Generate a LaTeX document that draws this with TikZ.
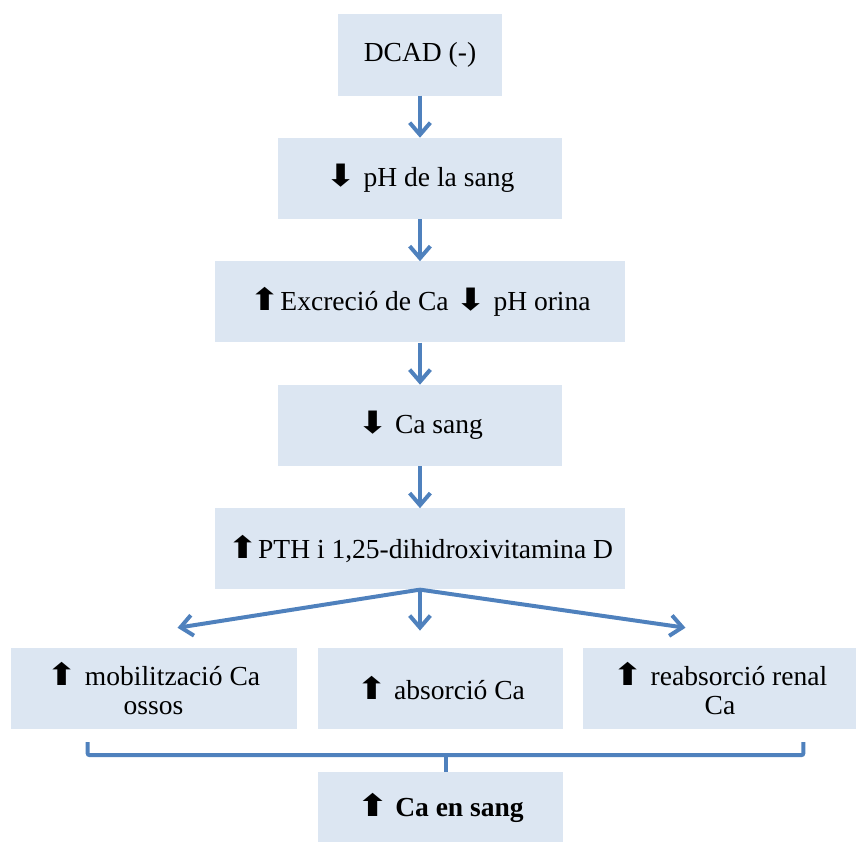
\documentclass[tikz,border=0pt]{standalone}
\usepackage{fontspec}
\setmainfont{Liberation Serif}
\newfontfamily\symfont{DejaVu Sans}
\usetikzlibrary{%
	calc,%
	arrows.meta,%
	positioning,%
}
\definecolor{cboxfill}{RGB}{220, 230, 242}
\definecolor{clink}{RGB}{79, 129, 189}
\newcommand{\uparr}{\scalebox{1.35}[1.12]{\symfont ⬆}}
\newcommand{\downarr}{\scalebox{1.35}[1.12]{\symfont ⬇}}
\tikzset{
	nodes={align=center},%
	stepbox/.style={%
			rectangle,%
			fill=cboxfill,%
			inner sep=0pt,%
			minimum height=2.43cm,%
			font={\fontsize{23.5}{25.5}\selectfont}},%
	link/.style={%
			draw=clink,%
			line width=3.4pt,%
			-{Straight Barb[length=0.36cm, width=0.62cm, line width=3.4pt]}},%
	bracket/.style={%
			draw=clink,%
			line width=3.4pt,%
			rounded corners=2pt},%
}

\begin{document}
\begin{tikzpicture}[x=0.03cm, y=0.03cm, node distance=1.26cm]%
	\useasboundingbox (0,0) rectangle (857,-842);

	\node[stepbox, minimum width=4.89cm] (dcad) at (420,-55) {DCAD (-)};
	\node[stepbox, minimum width=8.49cm] (ph) [below=of dcad] {\downarr{} pH de la sang};
	\node[stepbox, minimum width=12.3cm] (exc) [below=of ph] {\uparr{}Excreció de Ca \downarr{} pH orina};
	\node[stepbox, minimum width=8.49cm] (casang) [below=of exc] {\downarr{} Ca sang};
	\node[stepbox, minimum width=12.3cm] (pth) [below=of casang] {\uparr{}PTH i 1,25-dihidroxivitamina D};

	\node[stepbox, minimum width=7.35cm] (abs) at (440.5,-688.5) {\uparr{} absorció Ca};
	\node[stepbox, minimum width=8.58cm] (mob) [left=0.63cm of abs] {\uparr{} mobilització Ca\\ossos};
	\node[stepbox, minimum width=8.19cm] (reab) [right=0.6cm of abs] {\uparr{} reabsorció renal\\Ca};

	\node[stepbox, minimum width=7.35cm, minimum height=2.1cm] (final) [below=1.29cm of abs] {\textbf{\uparr{} Ca en sang}};

	\draw[link] (dcad) to (ph);
	\draw[link] (ph) to (exc);
	\draw[link] (exc) to (casang);
	\draw[link] (casang) to (pth);

	\draw[link] (pth.south) to ([shift={(24,20)}]mob.north);
	\draw[link] (pth.south) to ++(0,-41);
	\draw[link] (pth.south) to ([shift={(-34.5,20)}]reab.north);

	\draw[bracket] ([shift={(-66,-13)}]mob.south) |- ([shift={(83.5,-26)}]reab.south) -- ++(0,13);
	\draw[bracket] ([xshift=4.5]final.north) -- ++(0,17);
\end{tikzpicture}
\end{document}
